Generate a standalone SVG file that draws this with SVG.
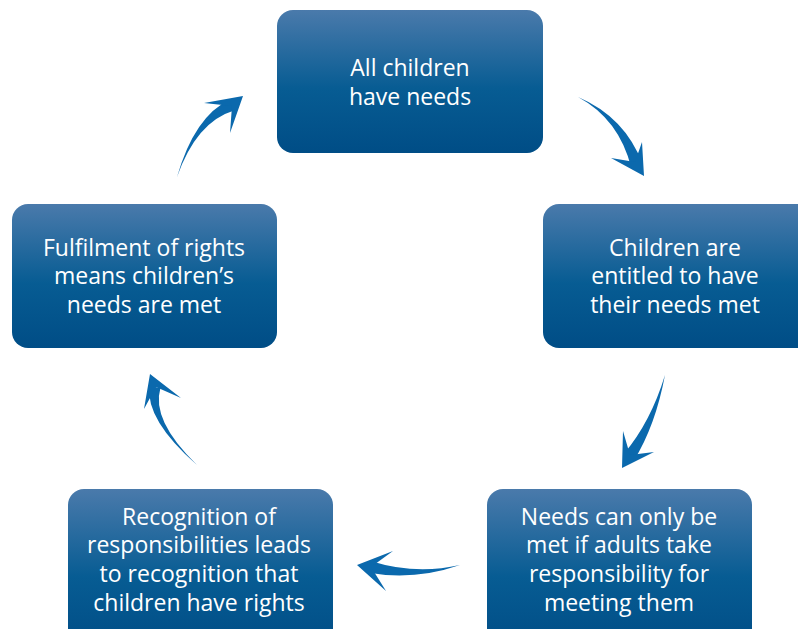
<svg xmlns="http://www.w3.org/2000/svg" width="798" height="629" viewBox="0 0 798 629">
<defs>
<linearGradient id="g" x1="0" y1="0" x2="0" y2="1">
<stop offset="0" stop-color="#4a7aab"/>
<stop offset="0.55" stop-color="#075c93"/>
<stop offset="1" stop-color="#004d86"/>
</linearGradient>
<style>
.box{fill:url(#g);}
.t{font-family:"Open Sans","Noto Sans",sans-serif;font-size:23px;fill:#ffffff;text-anchor:middle;}
.arr{fill:#0b69ad;}
</style>
</defs>
<rect width="798" height="629" fill="#ffffff"/>
<g id="n1"><rect class="box" x="277" y="10" width="266" height="143" rx="16"/>
<text class="t" x="410" y="76">All children</text><text class="t" x="410" y="105">have needs</text></g>
<g id="n2"><rect class="box" x="543" y="204" width="280" height="144" rx="16"/>
<text class="t" x="675" y="256">Children are</text><text class="t" x="675" y="284">entitled to have</text><text class="t" x="675" y="313">their needs met</text></g>
<g id="n3"><rect class="box" x="487" y="489" width="265" height="160" rx="16"/>
<text class="t" x="619" y="525">Needs can only be</text><text class="t" x="619" y="553">met if adults take</text><text class="t" x="619" y="582">responsibility for</text><text class="t" x="619" y="611">meeting them</text></g>
<g id="n4"><rect class="box" x="68" y="489" width="265" height="160" rx="16"/>
<text class="t" x="199" y="525">Recognition of</text><text class="t" x="199" y="553">responsibilities leads</text><text class="t" x="199" y="582">to recognition that</text><text class="t" x="199" y="611">children have rights</text></g>
<g id="n5"><rect class="box" x="12" y="204" width="265" height="144" rx="16"/>
<text class="t" x="144" y="256">Fulfilment of rights</text><text class="t" x="144" y="284">means children’s</text><text class="t" x="144" y="313">needs are met</text></g>
<g id="connectors">
<path class="arr" d="M578,97 Q625,117 642.7,164.2 L631.3,167.8 Q619,119 578,97 Z"/>
<path class="arr" d="M644,176 L642,142 L635,162 L611,158 Z"/>
<path class="arr" d="M665,375 Q655.4,425.8 633.9,460.5 L624.1,453.5 Q650.6,422.2 665,375 Z"/>
<path class="arr" d="M622,468 L623,431 L630,455 L654,452 Z"/>
<path class="arr" d="M460,565 Q415.7,575.1 371.4,561.2 L368.6,572.8 Q414.3,580.9 460,565 Z"/>
<path class="arr" d="M357,565 L393,551 L371,567 L386,591 Z"/>
<path class="arr" d="M197,465 Q150.9,420.6 160.4,388.1 L149.6,385.9 Q145.1,419.4 197,465 Z"/>
<path class="arr" d="M150,374 L144,409 L156,387 L181,398 Z"/>
<path class="arr" d="M177,177 Q196.6,121.8 234.1,110.6 L229.9,99.4 Q194.4,116.2 177,177 Z"/>
<path class="arr" d="M243,96 L204,103 L232,106 L230,133 Z"/>
</g>
</svg>
